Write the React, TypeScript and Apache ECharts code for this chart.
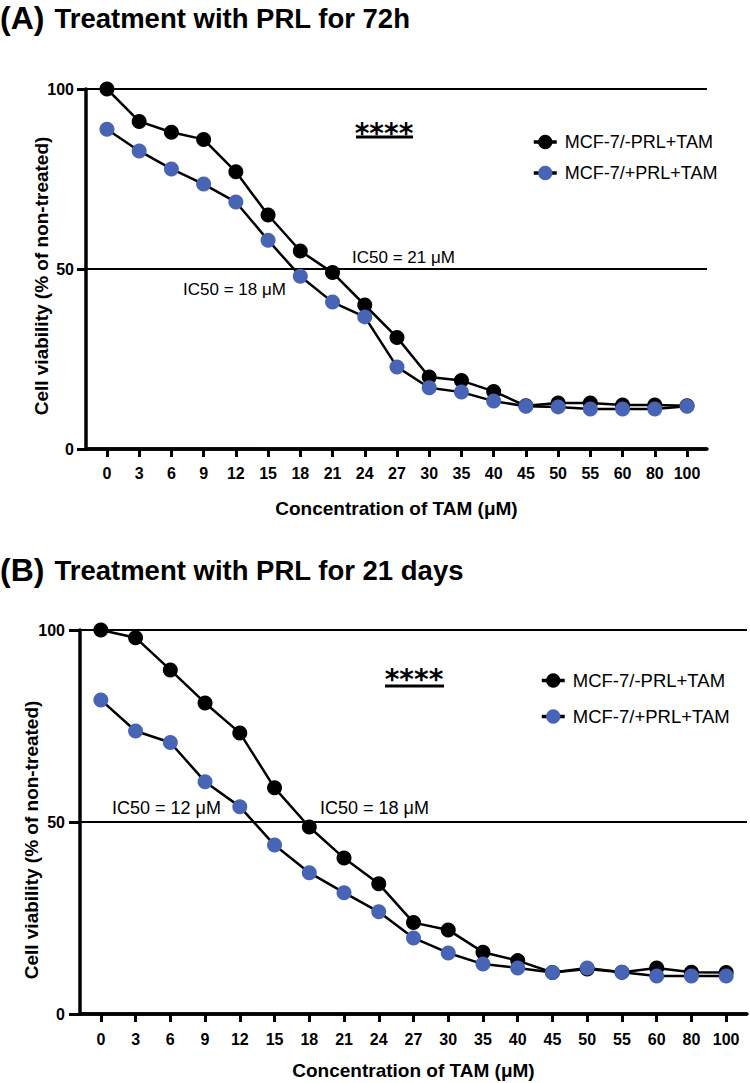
import React, { useEffect, useRef } from 'react';
import * as echarts from 'echarts';

// ---- data ----
const concLabels = ['0', '3', '6', '9', '12', '15', '18', '21', '24', '27', '30', '35', '40', '45', '50', '55', '60', '80', '100'];
const seriesNames = ['MCF-7/-PRL+TAM', 'MCF-7/+PRL+TAM'];
const a72Minus = [100, 91, 88, 86, 77, 65, 55, 49, 40, 31, 20, 19, 16, 12, 12.8, 12.8, 12.2, 12.2, 12];
const a72Plus = [88.8, 82.8, 77.8, 73.6, 68.6, 58, 48, 40.8, 36.7, 22.8, 17, 15.8, 13.3, 11.9, 11.7, 11.1, 11.1, 11.1, 11.9];
const b21Minus = [100, 98, 89.6, 81, 73.2, 58.9, 48.7, 40.6, 33.9, 23.8, 21.9, 16.1, 13.9, 10.8, 11.7, 10.9, 12, 10.9, 10.8];
const b21Plus = [81.8, 73.7, 70.7, 60.5, 54, 44, 36.8, 31.6, 26.6, 19.8, 15.9, 13, 12, 10.8, 12, 10.9, 9.9, 9.9, 9.9];
const yTicks = [0, 50, 100];

const FONT = '"Liberation Sans", Arial, Helvetica, sans-serif';
const BLUE = '#4864B4';
const idx = concLabels.map((_, i) => i);

function xAxisFor(grid: number, min: number, max: number, nameGap: number, labelMargin: number) {
  return {
    type: 'value',
    gridIndex: grid,
    min,
    max,
    axisLine: { show: true, onZero: false, lineStyle: { color: '#000', width: 3.5 } },
    axisTick: { show: true, customValues: idx, length: 8, lineStyle: { color: '#000', width: 3 } },
    axisLabel: {
      customValues: idx,
      formatter: (v: number) => concLabels[Math.round(v)] ?? '',
      margin: labelMargin,
      fontSize: 16,
      fontWeight: 'bold',
      color: '#000',
      fontFamily: FONT,
    },
    splitLine: { show: false },
    name: 'Concentration of TAM (μM)',
    nameLocation: 'middle',
    nameGap,
    nameTextStyle: { fontSize: 19, fontWeight: 'bold', color: '#000', fontFamily: FONT },
  };
}

function yAxisFor(grid: number, tickLen: number, labelMargin: number) {
  return {
    type: 'value',
    gridIndex: grid,
    min: yTicks[0],
    max: yTicks[yTicks.length - 1],
    interval: 50,
    axisLine: { show: true, onZero: false, lineStyle: { color: '#000', width: 3.5 } },
    axisTick: { show: true, length: tickLen, lineStyle: { color: '#000', width: 3 } },
    axisLabel: { margin: labelMargin, fontSize: 16, fontWeight: 'bold', color: '#000', fontFamily: FONT },
    splitLine: { show: true, lineStyle: { color: '#000', width: 2.2 } },
  };
}

function lineSeries(name: string, values: number[], axis: number, color: string, withBase: boolean) {
  return {
    type: 'line',
    name,
    xAxisIndex: axis,
    yAxisIndex: axis,
    data: values.map((v, i) => [i, v]),
    symbol: 'circle',
    symbolSize: 15,
    lineStyle: { color: '#000', width: 2.5 },
    itemStyle: { color },
    emphasis: { disabled: true },
    markLine: withBase
      ? {
          silent: true,
          symbol: ['none', 'none'],
          label: { show: false },
          lineStyle: { color: '#000', width: 3.5, type: 'solid' },
          data: [{ yAxis: yTicks[0] }],
        }
      : undefined,
  };
}

function legendFor(left: number, top: number, gap: number, fs: number) {
  return {
    data: seriesNames,
    orient: 'vertical',
    left,
    top,
    itemGap: gap,
    itemWidth: 23,
    itemHeight: 18,
    selectedMode: false,
    lineStyle: { color: '#000', width: 3.5 },
    textStyle: { fontSize: fs, color: '#000', fontFamily: FONT, padding: [0, 0, 0, 3] },
  };
}

function titleText(x: number, y: number, letter: string, rest: string) {
  return {
    type: 'text',
    x,
    y,
    style: {
      text: `{a|(${letter})}{s| }{b|${rest}}`,
      verticalAlign: 'middle',
      align: 'left',
      fill: '#000',
      rich: {
        a: { fontSize: 32, fontWeight: 'bold', fontFamily: FONT, fill: '#000' },
        s: { fontSize: 36, fontFamily: FONT },
        b: { fontSize: 27.5, fontWeight: 'bold', fontFamily: FONT, fill: '#000' },
      },
    },
  };
}

function plainText(x: number, y: number, text: string, fs: number, align = 'left', bold = false, rotation = 0) {
  return {
    type: 'text',
    x,
    y,
    rotation,
    style: {
      text,
      fontSize: fs,
      fontWeight: bold ? 'bold' : 'normal',
      fontFamily: FONT,
      fill: '#000',
      align,
      verticalAlign: 'middle',
    },
  };
}

function stars(cx: number, cy: number, ulY: number, x1: number, x2: number) {
  return [
    {
      type: 'text',
      x: cx,
      y: cy,
      style: {
        text: '****',
        fontSize: 28,
        fontWeight: 'bold',
        fontFamily: '"DejaVu Sans", sans-serif',
        fill: '#000',
        align: 'center',
        verticalAlign: 'middle',
      },
    },
    { type: 'line', shape: { x1, y1: ulY, x2, y2: ulY }, style: { stroke: '#000', lineWidth: 3 } },
  ];
}

const option = {
  animation: false,
  backgroundColor: '#fff',
  grid: [
    { left: 86, right: 43, top: 89, height: 360, containLabel: false, outerBoundsMode: 'none' },
    { left: 80, right: 3, top: 630, height: 384, containLabel: false, outerBoundsMode: 'none' },
  ],
  xAxis: [xAxisFor(0, -0.65, 18.62, 50, 16), xAxisFor(1, -0.6, 18.6, 47, 17)],
  yAxis: [yAxisFor(0, 9, 12), yAxisFor(1, 11, 15)],
  legend: [legendFor(527, 128, 13, 18), legendFor(535, 666, 17, 18.5)],
  series: [
    lineSeries(seriesNames[0], a72Minus, 0, '#000', true),
    lineSeries(seriesNames[1], a72Plus, 0, BLUE, false),
    lineSeries(seriesNames[0], b21Minus, 1, '#000', true),
    lineSeries(seriesNames[1], b21Plus, 1, BLUE, false),
  ],
  graphic: [
    titleText(0, 18, 'A', 'Treatment with PRL for 72h'),
    titleText(0, 570, 'B', 'Treatment with PRL for 21 days'),
    plainText(41, 276, 'Cell viability (% of non-treated)', 19, 'center', true, Math.PI / 2),
    plainText(31, 840, 'Cell viability (% of non-treated)', 19, 'center', true, Math.PI / 2),
    plainText(352, 257, 'IC50 = 21 μM', 17),
    plainText(183, 289, 'IC50 = 18 μM', 17),
    plainText(112, 808, 'IC50 = 12 μM', 18),
    plainText(320, 808, 'IC50 = 18 μM', 18),
    ...stars(384, 133, 137, 356, 413),
    ...stars(414, 679, 686, 385, 444),
  ],
};

export default function App() {
  const ref = useRef<HTMLDivElement>(null);
  useEffect(() => {
    if (!ref.current) return;
    const chart = echarts.init(ref.current, null, { renderer: 'svg', width: 750, height: 1083 });
    chart.setOption(option as any);
    return () => chart.dispose();
  }, []);
  return (
    <div
      ref={ref}
      style={{ position: 'absolute', left: 0, top: 0, width: 750, height: 1083, background: '#fff' }}
    />
  );
}
